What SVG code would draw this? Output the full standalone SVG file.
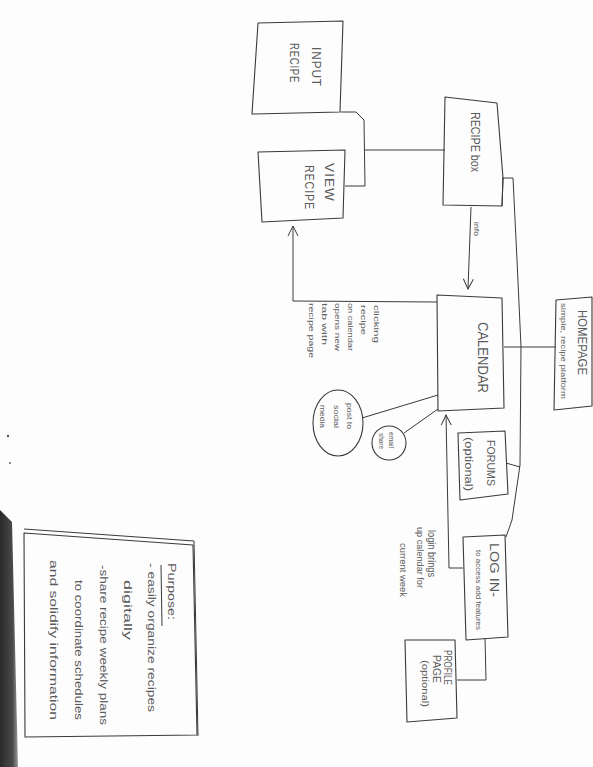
<svg xmlns="http://www.w3.org/2000/svg" width="593" height="767" viewBox="0 0 593 767">
  <defs>
    <style>
      .box { fill: none; stroke: #3a3a3a; stroke-width: 1.1; stroke-linejoin: round; }
      .wire { fill: none; stroke: #3a3a3a; stroke-width: 1; stroke-linejoin: round; }
      .t { font-family: "Liberation Sans", "DejaVu Sans", sans-serif; fill: #5a5a5a; }
      .cap { font-size: 13px; letter-spacing: 1px; }
      .note { font-size: 8px; }
    </style>
    <marker id="vee" viewBox="0 0 12 12" refX="11" refY="6" markerWidth="12" markerHeight="12" markerUnits="userSpaceOnUse" orient="auto">
      <path d="M1,1 L11,6 L1,11" fill="none" stroke="#3a3a3a" stroke-width="1"/>
    </marker>
    <linearGradient id="edge" x1="0" y1="0" x2="1" y2="0">
      <stop offset="0" stop-color="#2a2a2a"/>
      <stop offset="0.7" stop-color="#4a4a4a"/>
      <stop offset="1" stop-color="#9a9a9a"/>
    </linearGradient>
  </defs>

  <!-- paper -->
  <rect x="0" y="0" width="593" height="767" fill="#fdfdfd"/>
  <path d="M0,510 L12,522 L18,767 L0,767 Z" fill="url(#edge)"/>
  <circle cx="8" cy="436" r="1.2" fill="#555"/>
  <circle cx="10" cy="463" r="1" fill="#666"/>

  <!-- connectors -->
  <g id="connectors">
    <path class="wire" d="M341,112 L356,112 L364,120 L365,186 L345,186"/>
    <path class="wire" d="M365,150 L445,150"/>
    <path class="wire" d="M502,178 L513,178 L517,260 L521,347 L520,465 L512,520 L506,537"/>
    <path class="wire" d="M503,178 L502,206"/>
    <path class="wire" d="M504,347 L556,347"/>
    <path class="wire" d="M506,463 L520,467"/>
    <path class="wire" d="M471,207 L468,289" marker-end="url(#vee)"/>
    <path class="wire" d="M437,302 L293,301 L293,226" marker-end="url(#vee)"/>
    <path class="wire" d="M463,568 L449,568 L446,415" marker-end="url(#vee)"/>
    <path class="wire" d="M485,638 L486,680 L457,680"/>
    <path class="wire" d="M362,418 L438,395"/>
    <path class="wire" d="M404,433 L438,409"/>
  </g>

  <g id="input-recipe">
    <path class="box" d="M258,23 L343,21 L340,112 L252,114 Z"/>
    <text class="t cap" transform="translate(312,47) rotate(90)" textLength="40" lengthAdjust="spacingAndGlyphs">INPUT</text>
    <text class="t cap" transform="translate(290,43) rotate(90)" textLength="40" lengthAdjust="spacingAndGlyphs">RECIPE</text>
  </g>

  <g id="view-recipe">
    <path class="box" d="M258,152 L345,150 L343,218 L262,222 Z"/>
    <text class="t cap" transform="translate(325,163) rotate(90)" textLength="39" lengthAdjust="spacingAndGlyphs">VIEW</text>
    <text class="t cap" transform="translate(305,165) rotate(90)" textLength="45" lengthAdjust="spacingAndGlyphs">RECIPE</text>
  </g>

  <g id="recipe-box">
    <path class="box" d="M445,97 L497,103 L503,178 L502,206 L443,205 Z"/>
    <text class="t" font-size="12" transform="translate(471,112) rotate(90)" textLength="60" lengthAdjust="spacingAndGlyphs">RECIPE box</text>
    <text class="t" font-size="8" transform="translate(474,222) rotate(90)" textLength="14" lengthAdjust="spacingAndGlyphs">info</text>
  </g>

  <g id="calendar">
    <path class="box" d="M437,295 L502,298 L504,408 L438,411 Z"/>
    <text class="t" font-size="14" transform="translate(478,322) rotate(90)" textLength="71" lengthAdjust="spacingAndGlyphs">CALENDAR</text>
    <text class="t note" transform="translate(374,305) rotate(90)" textLength="38" lengthAdjust="spacingAndGlyphs">clicking</text>
    <text class="t note" transform="translate(361,305) rotate(90)" textLength="30" lengthAdjust="spacingAndGlyphs">recipe</text>
    <text class="t note" transform="translate(348,303) rotate(90)" textLength="48" lengthAdjust="spacingAndGlyphs">on calendar</text>
    <text class="t note" transform="translate(335,303) rotate(90)" textLength="48" lengthAdjust="spacingAndGlyphs">opens new</text>
    <text class="t note" transform="translate(322,303) rotate(90)" textLength="42" lengthAdjust="spacingAndGlyphs">tab with</text>
    <text class="t note" transform="translate(309,303) rotate(90)" textLength="55" lengthAdjust="spacingAndGlyphs">recipe page</text>
  </g>

  <g id="social-media">
    <ellipse class="box" cx="338" cy="423" rx="25" ry="33"/>
    <text class="t note" transform="translate(347,403) rotate(90)" textLength="26" lengthAdjust="spacingAndGlyphs">post to</text>
    <text class="t note" transform="translate(334,405) rotate(90)" textLength="23" lengthAdjust="spacingAndGlyphs">social</text>
    <text class="t note" transform="translate(320,405) rotate(90)" textLength="23" lengthAdjust="spacingAndGlyphs">media</text>
  </g>

  <g id="email-share">
    <ellipse class="box" cx="389" cy="443" rx="17" ry="17"/>
    <text class="t" font-size="7" transform="translate(389,432) rotate(90)" textLength="16" lengthAdjust="spacingAndGlyphs">email</text>
    <text class="t" font-size="7" transform="translate(379,433) rotate(90)" textLength="16" lengthAdjust="spacingAndGlyphs">share</text>
  </g>

  <g id="homepage">
    <path class="box" d="M556,300 L592,297 L592,406 L554,410 Z"/>
    <text class="t" font-size="12" transform="translate(578,310) rotate(90)" textLength="65" lengthAdjust="spacingAndGlyphs">HOMEPAGE</text>
    <text class="t" font-size="7" transform="translate(561,303) rotate(90)" textLength="96" lengthAdjust="spacingAndGlyphs">simple, recipe platform</text>
  </g>

  <g id="forums">
    <path class="box" d="M458,433 L505,431 L508,494 L460,500 Z"/>
    <text class="t" font-size="11" transform="translate(487,440) rotate(90)" textLength="46" lengthAdjust="spacingAndGlyphs">FORUMS</text>
    <text class="t" font-size="10" transform="translate(465,437) rotate(90)" textLength="54" lengthAdjust="spacingAndGlyphs">(optional)</text>
  </g>

  <g id="log-in">
    <path class="box" d="M463,537 L505,535 L508,637 L466,640 Z"/>
    <text class="t" font-size="12" transform="translate(490,543) rotate(90)" textLength="54" lengthAdjust="spacingAndGlyphs">LOG IN-</text>
    <text class="t" font-size="7" transform="translate(476,550) rotate(90)" textLength="80" lengthAdjust="spacingAndGlyphs">to access add features</text>
    <text class="t" font-size="10" transform="translate(428,530) rotate(90)" textLength="47" lengthAdjust="spacingAndGlyphs">login brings</text>
    <text class="t" font-size="9" transform="translate(417,527) rotate(90)" textLength="61" lengthAdjust="spacingAndGlyphs">up calendar for</text>
    <text class="t" font-size="9" transform="translate(400,543) rotate(90)" textLength="54" lengthAdjust="spacingAndGlyphs">current week</text>
  </g>

  <g id="profile-page">
    <path class="box" d="M405,640 L455,640 L457,718 L407,722 Z"/>
    <text class="t" font-size="10" transform="translate(444,650) rotate(90)" textLength="35" lengthAdjust="spacingAndGlyphs">PROFILE</text>
    <text class="t" font-size="10" transform="translate(433,655) rotate(90)" textLength="28" lengthAdjust="spacingAndGlyphs">PAGE</text>
    <text class="t" font-size="9" transform="translate(422,660) rotate(90)" textLength="47" lengthAdjust="spacingAndGlyphs">(optional)</text>
  </g>

  <g id="purpose">
    <path class="box" d="M24,533 L193,545 L197,735 L25,737 Z"/>
    <path class="wire" d="M24,529 L194,541 L198,736"/>
    <text class="t" font-size="11" transform="translate(168,563) rotate(90)" textLength="57" lengthAdjust="spacingAndGlyphs">Purpose:</text>
    <path class="wire" d="M161,565 L162,626"/>
    <text class="t" font-size="10" transform="translate(148,563) rotate(90)" textLength="149" lengthAdjust="spacingAndGlyphs">- easily organize recipes</text>
    <text class="t" font-size="10" transform="translate(124,580) rotate(90)" textLength="60" lengthAdjust="spacingAndGlyphs">digitally</text>
    <text class="t" font-size="10" transform="translate(100,565) rotate(90)" textLength="160" lengthAdjust="spacingAndGlyphs">-share recipe weekly plans</text>
    <text class="t" font-size="10" transform="translate(75,580) rotate(90)" textLength="140" lengthAdjust="spacingAndGlyphs">to coordinate schedules</text>
    <text class="t" font-size="10" transform="translate(50,560) rotate(90)" textLength="160" lengthAdjust="spacingAndGlyphs">and solidify information</text>
  </g>
</svg>
